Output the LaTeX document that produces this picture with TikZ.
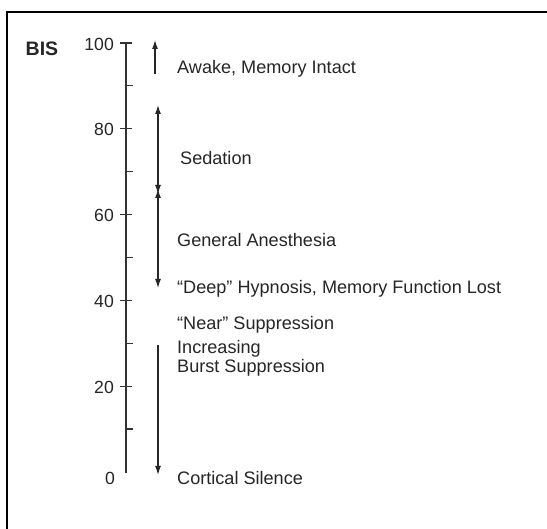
\documentclass[tikz,border=0pt]{standalone}
\usepackage{fontspec}
\setmainfont{Liberation Sans}
\usetikzlibrary{arrows.meta}
\begin{document}
\begin{tikzpicture}[x=1pt,y=-1pt,
  lbl/.style={anchor=west,inner sep=0pt,font=\fontsize{18.1}{21}\selectfont,text=black!85},
  num/.style={anchor=east,inner sep=0pt,font=\fontsize{17.6}{20}\selectfont,text=black!85},
  axisline/.style={line width=1.3pt,draw=black!80},
  tickmark/.style={line width=1.2pt,draw=black!80},
  rangearrow/.style={line width=1.2pt,draw=black!85},
  frameline/.style={line width=2.6pt,draw=black},
  hd/.tip={Latex[length=9pt,width=6pt]}
]
\useasboundingbox (0,0) rectangle (547,529);
\fill[white] (0,0) rectangle (547,529);
% frame (top and left sides visible)
\coordinate (fbl) at (7,529);
\coordinate (ftl) at (7,12);
\coordinate (ftr) at (547,12);
\draw[frameline] (fbl) -- (ftl) -- (ftr);

% axis
\coordinate (ax100) at (126,43);
\coordinate (ax0) at (126,473);
\draw[axisline] (ax100) -- (ax0);
% major ticks
\foreach \v/\lab in {100/100,80/80,60/60,40/40,20/20}{
  \pgfmathsetmacro{\yy}{472-4.29*\v}
  \draw[tickmark] (120,\yy) -- (132,\yy);
  \node[num] (n\v) at (114,\yy+1) {\lab};
}
\node[num] (n0) at (115,478) {0};
% minor ticks
\foreach \v in {90,70,50,30,10}{
  \pgfmathsetmacro{\yy}{472-4.29*\v}
  \draw[tickmark] (126,\yy) -- (133,\yy);
}

\node[anchor=center,inner sep=0pt,font=\fontsize{19.5}{22}\bfseries\selectfont,text=black!85] (bis) at (42,49) {BIS};

% range arrows
\coordinate (awB) at (155,74);
\coordinate (awT) at (155,40);
\draw[rangearrow,-hd] (awB) -- (awT);

\coordinate (seT) at (158,105);
\coordinate (seB) at (158,194);
\draw[rangearrow,hd-hd] (seT) -- (seB);

\coordinate (gaT) at (158,189);
\coordinate (gaB) at (158,288);
\draw[rangearrow,hd-hd] (gaT) -- (gaB);

\coordinate (buT) at (158,345);
\coordinate (buB) at (158,475);
\draw[rangearrow,-hd] (buT) -- (buB);

% labels
\node[lbl] (awake) at (177,69) {Awake, Memory Intact};
\node[lbl] (sed) at (180,158) {Sedation};
\node[lbl] (ga) at (177,240) {General Anesthesia};
\node[lbl] (deep) at (177,289) {“Deep” Hypnosis, Memory Function Lost};
\node[lbl] (near) at (177,325) {“Near” Suppression};
\node[lbl,align=left] (burst) at (177,358) {Increasing\\[-2pt]Burst Suppression};
\node[lbl] (silence) at (177,478) {Cortical Silence};
\end{tikzpicture}
\end{document}
